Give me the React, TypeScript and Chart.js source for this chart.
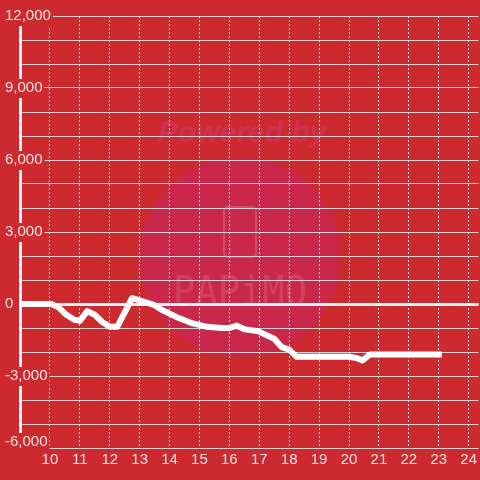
import React, { useEffect, useRef } from 'react';
import { Chart, registerables } from 'chart.js';

Chart.register(...registerables);

// Hour of day (x) and running balance (y)
const hours = [9, 10.05, 10.3, 10.55, 10.8, 11.0, 11.25, 11.5, 11.75, 12.0, 12.25, 12.75, 13.0, 13.5, 13.75, 14.0, 14.25, 14.75, 15.25, 15.75, 16.0, 16.25, 16.5, 16.95, 17.25, 17.5, 17.75, 18.0, 18.25, 20.0, 20.25, 20.45, 20.7, 23.0];
const balance = [0, 0, -150, -450, -650, -700, -300, -450, -750, -950, -950, 250, 150, -50, -250, -400, -550, -800, -950, -1000, -1000, -900, -1050, -1130, -1300, -1450, -1800, -1900, -2200, -2200, -2250, -2350, -2100, -2100];

const xTickLabels = [10, 11, 12, 13, 14, 15, 16, 17, 18, 19, 20, 21, 22, 23, 24];
const yLabelValues = [-6000, -3000, 0, 3000, 6000, 9000, 12000];

const X_MIN = 9;
const X_MAX = 24 + 1 / 3;
const Y_MIN = -6000;
const Y_MAX = 12000;

const BG = '#cc2a2f';
const TEXT = '#f6e2e2';
const GRID = '#cfcfcf';
const FONT = '"Liberation Sans", Arial, sans-serif';

const watermark = {
  id: 'watermark',
  beforeDraw(chart: any) {
    const { ctx, width, height } = chart;
    ctx.save();
    ctx.fillStyle = BG;
    ctx.fillRect(0, 0, width, height);
    ctx.beginPath();
    ctx.arc(240, 257, 100, 0, Math.PI * 2);
    ctx.fillStyle = '#c9284a';
    ctx.fill();
    ctx.textAlign = 'center';
    ctx.textBaseline = 'alphabetic';
    ctx.font = `italic bold 30px ${FONT}`;
    ctx.fillStyle = 'rgba(210, 48, 88, 0.85)';
    ctx.fillText('Powered by', 242, 142, 183);
    ctx.strokeStyle = 'rgba(222, 90, 115, 0.7)';
    ctx.lineWidth = 2;
    ctx.beginPath();
    ctx.roundRect(224, 207, 32, 50, 4);
    ctx.stroke();
    ctx.font = `40px "DejaVu Sans Mono", monospace`;
    ctx.fillStyle = 'rgba(220, 85, 110, 0.55)';
    ctx.fillText('PAPiMO', 240, 305, 134);
    ctx.restore();

    // lowest y label sits slightly above its grid line, as in the reference
    const ys = chart.scales.y;
    if (ys && !ys.$shifted) {
      const items = ys.getLabelItems(chart.chartArea);
      const low = items.find((it: any) => it.label === '-6,000');
      if (low) low.options.translation[1] -= 6;
      ys.$shifted = true;
    }
  },
};

export default function App() {
  const ref = useRef<HTMLCanvasElement | null>(null);

  useEffect(() => {
    document.body.style.margin = '0';
    const canvas = ref.current;
    if (!canvas) return;
    const chart = new Chart(canvas, {
      type: 'line',
      data: {
        datasets: [
          {
            data: hours.map((h, i) => ({ x: h, y: balance[i] })),
            borderColor: '#ffffff',
            borderWidth: 6,
            borderCapStyle: 'square',
            borderJoinStyle: 'round',
            pointRadius: 0,
            tension: 0,
            fill: false,
          },
        ],
      },
      options: {
        animation: false,
        responsive: false,
        layout: { padding: { top: 16, left: 0, right: 0, bottom: 0 } },
        plugins: { legend: { display: false }, tooltip: { enabled: false } },
        scales: {
          x: {
            type: 'linear',
            min: X_MIN,
            max: X_MAX,
            afterBuildTicks: (scale: any) => {
              scale.ticks = xTickLabels.map((v) => ({ value: v }));
            },
            afterFit: (scale: any) => {
              scale.height = 32;
            },
            border: { display: false, dash: [2, 2] },
            grid: {
              color: '#e4e4e4',
              lineWidth: 1,
              drawTicks: false,
            },
            ticks: {
              stepSize: 1,
              includeBounds: false,
              padding: 3,
              color: TEXT,
              font: { family: FONT, size: 15 },
              maxRotation: 0,
              autoSkip: false,
              z: 1,
            },
          },
          y: {
            type: 'linear',
            min: Y_MIN,
            max: Y_MAX,
            afterFit: (scale: any) => {
              scale.width = 20;
            },
            border: { display: true, color: '#f2f2f2', width: 3 },
            grid: {
              drawTicks: false,
              color: (c: any) => (c.tick && c.tick.value === 0 ? '#f4f4f4' : GRID),
              lineWidth: (c: any) => (c.tick && c.tick.value === 0 ? 3 : 1),
            },
            ticks: {
              stepSize: 1000,
              mirror: true,
              crossAlign: 'near',
              padding: -15,
              color: TEXT,
              font: { family: FONT, size: 15 },
              callback: (v: any) => (yLabelValues.includes(Number(v)) ? Number(v).toLocaleString('en-US') : ''),
              showLabelBackdrop: (c: any) => yLabelValues.includes(c.tick.value),
              backdropColor: BG,
              backdropPadding: { top: 0, bottom: 1, left: 2, right: 2 },
            },
          },
        },
      },
      plugins: [watermark],
    } as any);

    return () => chart.destroy();
  }, []);

  return (
    <div style={{ width: 480, height: 480 }}>
      <canvas ref={ref} width={480} height={480} style={{ display: 'block' }} />
    </div>
  );
}
